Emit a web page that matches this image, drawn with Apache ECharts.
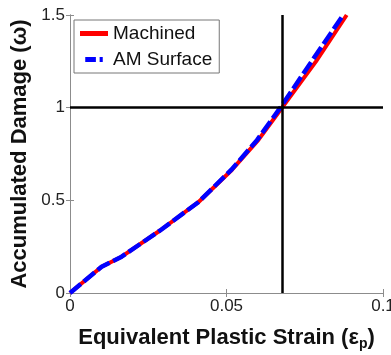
<!DOCTYPE html>
<html>
<head>
<meta charset="utf-8">
<script src="https://cdn.jsdelivr.net/npm/echarts@6/dist/echarts.min.js"></script>
<style>
    html, body {margin: 0; padding: 0; background: #fff;}
    #chart {width: 391px; height: 355px;}
</style>
</head>
<body>
<div id="chart"></div>
<script>
// strain / damage pairs
const machinedStrain = [0, 0.0101, 0.0165, 0.029, 0.041, 0.0517, 0.0602, 0.0676, 0.0786, 0.0884];
const machinedDamage = [0, 0.142, 0.196, 0.34, 0.49, 0.664, 0.826, 0.997, 1.25, 1.5];
const amStrain = [0, 0.0101, 0.0165, 0.029, 0.041, 0.0515, 0.0598, 0.0672, 0.0772, 0.0873];
const amDamage = [0, 0.142, 0.196, 0.34, 0.49, 0.664, 0.826, 1.0, 1.25, 1.5];
const xTicks = [0, 0.05, 0.1];
const yTicks = [0, 0.5, 1, 1.5];
const failStrain = 0.0677;
const failDamage = 1;

const toPairs = (xs, ys) => xs.map((x, i) => [x, ys[i]]);

let chart = echarts.init(document.getElementById('chart'));
const font = 'Liberation Sans, Arial, sans-serif';
const frame = {show: true, lineStyle: {color: '#8c8c8c', width: 1}};
const ticks = {show: true, inside: true, length: 4, lineStyle: {color: '#8c8c8c'}};

chart.setOption({
    animation: false,
    grid: {left: 70, right: 8, top: 15, bottom: 62, outerBoundsMode: 'none'},
    legend: {
        left: 74, top: 20,
        orient: 'vertical',
        itemWidth: 28, itemHeight: 5, itemGap: 7,
        padding: [4, 7, 4, 6],
        borderColor: '#777', borderWidth: 1, backgroundColor: '#fff',
        textStyle: {fontFamily: font, fontSize: 19, color: '#111'},
        data: [
            {name: 'Machined', icon: 'rect'},
            {name: 'AM Surface', icon: 'path://M0,0h17v8h-17z M23,0h5v8h-5z'}
        ]
    },
    xAxis: [{
        type: 'value', min: 0, max: 0.1, interval: 0.05,
        axisLine: frame, axisTick: ticks, splitLine: {show: false},
        axisLabel: {
            fontFamily: font, fontSize: 17, color: '#222', margin: 5,
            formatter: v => xTicks.includes(+v.toFixed(2)) ? String(+v.toFixed(2)) : ''
        },
        name: '{t|Equivalent Plastic Strain (ε}{s|p}{t|)}',
        nameLocation: 'middle', nameGap: 32,
        nameTextStyle: {
            rich: {
                t: {fontFamily: font, fontSize: 22, fontWeight: 'bold', color: '#111'},
                s: {fontFamily: font, fontSize: 14, fontWeight: 'bold', color: '#111', padding: [12, 0, 0, 0]}
            }
        }
    }, {
        type: 'value', min: 0, max: 0.1, interval: 0.05, position: 'top',
        axisLine: frame, axisTick: ticks, axisLabel: {show: false}, splitLine: {show: false}
    }],
    yAxis: [{
        type: 'value', min: 0, max: 1.5, interval: 0.5,
        axisLine: frame, axisTick: ticks, splitLine: {show: false},
        axisLabel: {
            fontFamily: font, fontSize: 17, color: '#222', margin: 5,
            formatter: v => yTicks.includes(v) ? String(v) : ''
        },
        name: 'Accumulated Damage (ω)',
        nameLocation: 'middle', nameGap: 30,
        nameTextStyle: {fontFamily: font, fontSize: 22, fontWeight: 'bold', color: '#111'}
    }, {
        type: 'value', min: 0, max: 1.5, interval: 0.5, position: 'right',
        axisLine: frame, axisTick: ticks, axisLabel: {show: false}, splitLine: {show: false}
    }],
    series: [
        {
            name: 'Machined', type: 'line', showSymbol: false, z: 3,
            color: '#ff0000',
            lineStyle: {color: '#ff0000', width: 4},
            data: toPairs(machinedStrain, machinedDamage),
            markLine: {
                silent: true, symbol: 'none', label: {show: false}, precision: 4,
                lineStyle: {color: '#000', width: 2.5, type: 'solid'},
                data: [{xAxis: failStrain}, {yAxis: failDamage}]
            }
        },
        {
            name: 'AM Surface', type: 'line', showSymbol: false, z: 4,
            color: '#0000ff',
            lineStyle: {color: '#0000ff', width: 4.5, type: [14, 4]},
            data: toPairs(amStrain, amDamage)
        }
    ]
});
</script>
</body>
</html>
